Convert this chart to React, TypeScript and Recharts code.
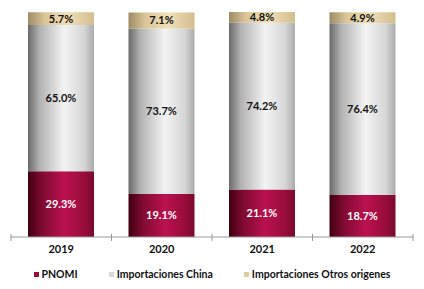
import React from 'react';
import { BarChart, Bar, XAxis, YAxis, Legend, LabelList } from 'recharts';

const YEARS = ['2019', '2020', '2021', '2022'];
const PNOMI = [29.3, 19.1, 21.1, 18.7];
const CHINA = [65.0, 73.7, 74.2, 76.4];
const OTROS = [5.7, 7.1, 4.8, 4.9];

const SERIES = [
  { key: 'pnomi', name: 'PNOMI', color: '#9c0c3c' },
  { key: 'china', name: 'Importaciones China', color: '#d9d9d9' },
  { key: 'otros', name: 'Importaciones Otros origenes', color: '#e2cd9f' },
];

const data = YEARS.map((year, i) => ({
  year,
  pnomi: PNOMI[i],
  china: CHINA[i],
  otros: OTROS[i],
}));

const FONT = 'Lato, "Open Sans", sans-serif';

const fmt = (v: any) => `${Number(v).toFixed(1)}%`;

// ticks sit on the category boundaries, not centres
const YearTick = (props: any) => {
  const { x, y, payload, index, visibleTicksCount } = props;
  const half = payload && payload.offset ? payload.offset : 50;
  const last = index === (visibleTicksCount ?? YEARS.length) - 1;
  return (
    <g>
      <line x1={x - half} x2={x - half} y1={y - 3} y2={y + 4} stroke="#9a9a9a" />
      {last && <line x1={x + half} x2={x + half} y1={y - 3} y2={y + 4} stroke="#9a9a9a" />}
      <text x={x} y={y + 16} textAnchor="middle" fontFamily={FONT} fontWeight="bold" fontSize={11} fill="#111">
        {payload.value}
      </text>
    </g>
  );
};

const LegendBox = () => (
  <div style={{ display: 'flex', justifyContent: 'center', gap: 31, fontFamily: FONT, fontSize: 10.5, fontWeight: 700, color: '#111' }}>
    {SERIES.map((s) => (
      <div key={s.key} style={{ display: 'flex', alignItems: 'center' }}>
        <span style={{ width: 5, height: 5, background: s.color, marginRight: 3, display: 'inline-block' }} />
        {s.name}
      </div>
    ))}
  </div>
);

export default function App() {
  return (
    <div style={{ position: 'fixed', left: 0, top: 0, width: 424, height: 289, background: '#fff' }}>
      <BarChart width={424} height={289} data={data} margin={{ top: 12, right: 11, left: 11, bottom: 9 }} barSize={66}>
        <defs>
          <linearGradient id="gPnomi" x1="0" y1="0" x2="1" y2="0">
            <stop offset="0" stopColor="#40000f" />
            <stop offset="0.2" stopColor="#7c0a30" />
            <stop offset="0.55" stopColor="#bb1150" />
            <stop offset="0.85" stopColor="#980c3b" />
            <stop offset="1" stopColor="#7a0a2e" />
          </linearGradient>
          <linearGradient id="gChina" x1="0" y1="0" x2="1" y2="0">
            <stop offset="0" stopColor="#6a6a6a" />
            <stop offset="0.18" stopColor="#b3b3b3" />
            <stop offset="0.55" stopColor="#f3f3f3" />
            <stop offset="0.85" stopColor="#d6d6d6" />
            <stop offset="1" stopColor="#ababab" />
          </linearGradient>
          <linearGradient id="gOtros" x1="0" y1="0" x2="1" y2="0">
            <stop offset="0" stopColor="#9e8a66" />
            <stop offset="0.25" stopColor="#d9c597" />
            <stop offset="0.6" stopColor="#f0dfb8" />
            <stop offset="1" stopColor="#d2bd8e" />
          </linearGradient>
        </defs>
        <XAxis
          dataKey="year"
          axisLine={{ stroke: '#9a9a9a' }}
          tickLine={false}
          tickSize={0}
          tickMargin={0}
          height={31}
          tick={<YearTick />}
          interval={0}
        />
        <YAxis hide domain={[0, 100]} />
        <Legend verticalAlign="bottom" content={<LegendBox />} />
        <Bar dataKey="pnomi" name="PNOMI" stackId="a" fill="url(#gPnomi)" isAnimationActive={false}>
          <LabelList dataKey="pnomi" position="center" formatter={fmt} fill="#ffffff" fontFamily={FONT} fontWeight="bold" fontSize={11} />
        </Bar>
        <Bar dataKey="china" name="Importaciones China" stackId="a" fill="url(#gChina)" isAnimationActive={false}>
          <LabelList dataKey="china" position="center" formatter={fmt} fill="#111111" fontFamily={FONT} fontWeight="bold" fontSize={11} />
        </Bar>
        <Bar dataKey="otros" name="Importaciones Otros origenes" stackId="a" fill="url(#gOtros)" isAnimationActive={false}>
          <LabelList dataKey="otros" position="center" formatter={fmt} fill="#111111" fontFamily={FONT} fontWeight="bold" fontSize={11} />
        </Bar>
      </BarChart>
    </div>
  );
}
